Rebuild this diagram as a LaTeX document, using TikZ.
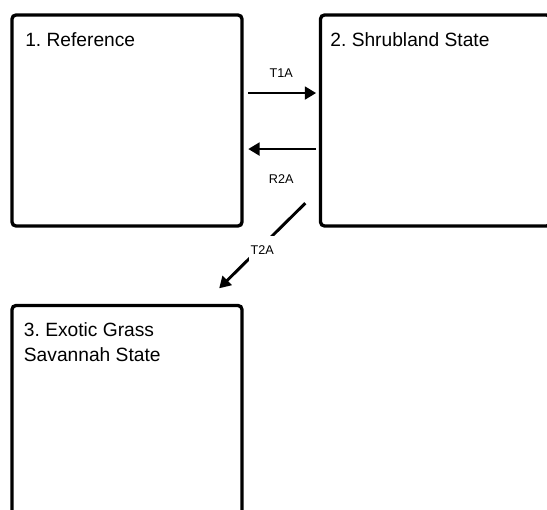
\documentclass[tikz,border=0pt]{standalone}
\usepackage{fontspec}
\setmainfont{Liberation Sans}
\frenchspacing
\usepackage{tikz}
\usetikzlibrary{positioning}
\usetikzlibrary{arrows.meta}

\begin{document}
\begin{tikzpicture}[x=0.75pt, y=-0.75pt,
    statebox/.style={draw, line width=2.5pt, rounded corners=3pt, inner sep=0pt, minimum width=172.5pt, minimum height=158.25pt},
    statename/.style={inner sep=0pt, align=left, font=\fontsize{14.4}{18.75}\selectfont},
    trans/.style={line width=2.2pt, arrows={-Triangle[length=8.5pt, width=9.5pt]}},
    translabel/.style={inner sep=0pt, font=\fontsize{9.5}{11}\selectfont}]
			\useasboundingbox (0,0) rectangle (547,510);
			\clip (0,0) rectangle (547,510); % recorte
			\node [statebox] (ref) at (127,120.5) {};
			\node [statebox] (shrub) at (435.5,120.5) {};
			\node [statebox] (grass) at (127,411) {};
			\node [statename, below right=14.5pt and 11pt of ref.north west] (refname) {1. Reference};
			\node [statename, below right=14.5pt and 8.5pt of shrub.north west] (shrubname) {2. Shrubland State};
			\node [statename, below right=14pt and 10pt of grass.north west] (grassname) {3. Exotic Grass\\Savannah State};
			\draw [trans, shorten <=3.4pt, shorten >=2pt] ([yshift=20.6pt]ref.east) -- ([yshift=20.6pt]shrub.west) node [translabel, midway, above=10.5pt] (t1a) {T1A}; % 1 -> 2
			\draw [trans, shorten <=2pt, shorten >=3.4pt] ([yshift=-21.4pt]shrub.west) -- ([yshift=-21.4pt]ref.east) node [translabel, midway, below=18pt] (r2a) {R2A}; % 2 -> 1
			\draw [trans] ([shift={(-13.5,-24.5)}]shrub.south west) -- ([shift={(-24.5,-15.5)}]grass.north east) node [translabel, midway, fill=white, inner xsep=1pt, inner ysep=7pt, yshift=-3pt] (t2a) {T2A}; % 2 -> 3
		\end{tikzpicture}
\end{document}
